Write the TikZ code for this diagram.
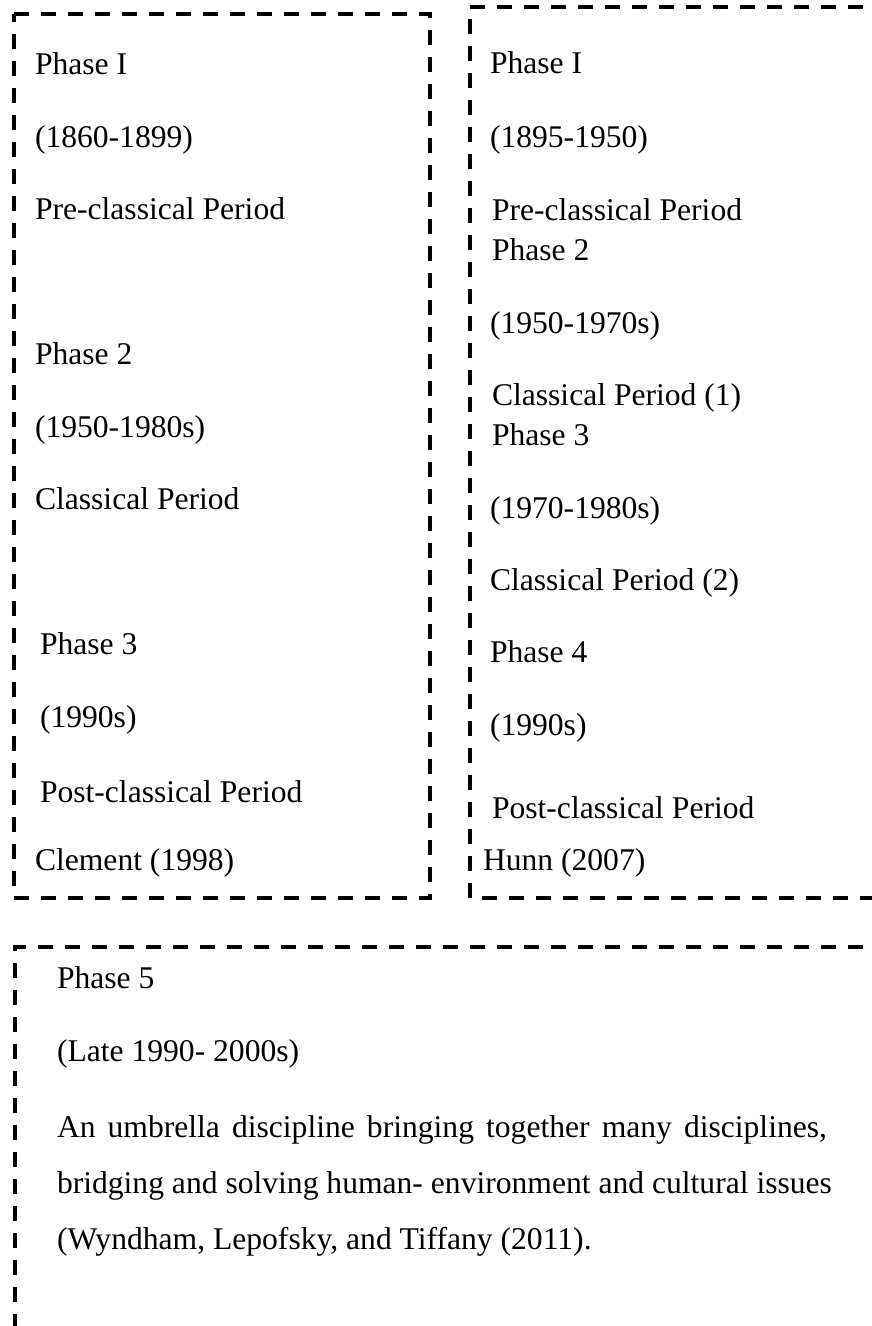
\documentclass[tikz,border=0pt]{standalone}
\usepackage{fontspec}
\setmainfont{Liberation Serif}
\begin{document}
\begin{tikzpicture}[x=1pt,y=-1pt,
  frame/.style={line width=3.5pt,dash pattern=on 15pt off 12pt,black},
  txt/.style={anchor=base west,inner sep=0pt,outer sep=0pt,font=\fontsize{31.6}{38}\selectfont}]
\useasboundingbox (0,0) rectangle (872,1326);
\clip (0,0) rectangle (872,1326);

% frames
\draw[frame] (14,14) -- (430,14) -- (430,898) -- (14,898) -- cycle;
\draw[frame] (890,7) -- (470,7) -- (470,898) -- (890,898);
\draw[frame] (890,947) -- (15,947) -- (15,1340);

% Clement (1998)
\node[txt] (l1) at (35,74) {Phase I};
\node[txt] (l2) at (35,147) {(1860-1899)};
\node[txt] (l3) at (35,219) {Pre-classical Period};
\node[txt] (l4) at (35,364) {Phase 2};
\node[txt] (l5) at (35,437) {(1950-1980s)};
\node[txt] (l6) at (35,509) {Classical Period};
\node[txt] (l7) at (40,654) {Phase 3};
\node[txt] (l8) at (40,727) {(1990s)};
\node[txt] (l9) at (40,802) {Post-classical Period};
\node[txt] (l10) at (35,870) {Clement (1998)};

% Hunn (2007)
\node[txt] (r1) at (490,73) {Phase I};
\node[txt] (r2) at (490,147) {(1895-1950)};
\node[txt] (r3) at (492,220) {Pre-classical Period};
\node[txt] (r4) at (492,260) {Phase 2};
\node[txt] (r5) at (490,333) {(1950-1970s)};
\node[txt] (r6) at (492,405) {Classical Period (1)};
\node[txt] (r7) at (492,445) {Phase 3};
\node[txt] (r8) at (490,518) {(1970-1980s)};
\node[txt] (r9) at (490,590) {Classical Period (2)};
\node[txt] (r10) at (490,662) {Phase 4};
\node[txt] (r11) at (490,735) {(1990s)};
\node[txt] (r12) at (492,818) {Post-classical Period};
\node[txt] (r13) at (483,870) {Hunn (2007)};

% Phase 5
\node[txt] (b1) at (57,988) {Phase 5};
\node[txt] (b2) at (57,1061) {(Late 1990- 2000s)};
\node[txt] (b3) at (57,1137) {\makebox[770pt][s]{An umbrella discipline bringing together many disciplines,}};
\node[txt] (b4) at (57,1193) {bridging and solving human- environment and cultural issues};
\node[txt] (b5) at (57,1249) {(Wyndham, Lepofsky, and Tiffany (2011).};
\end{tikzpicture}
\end{document}
